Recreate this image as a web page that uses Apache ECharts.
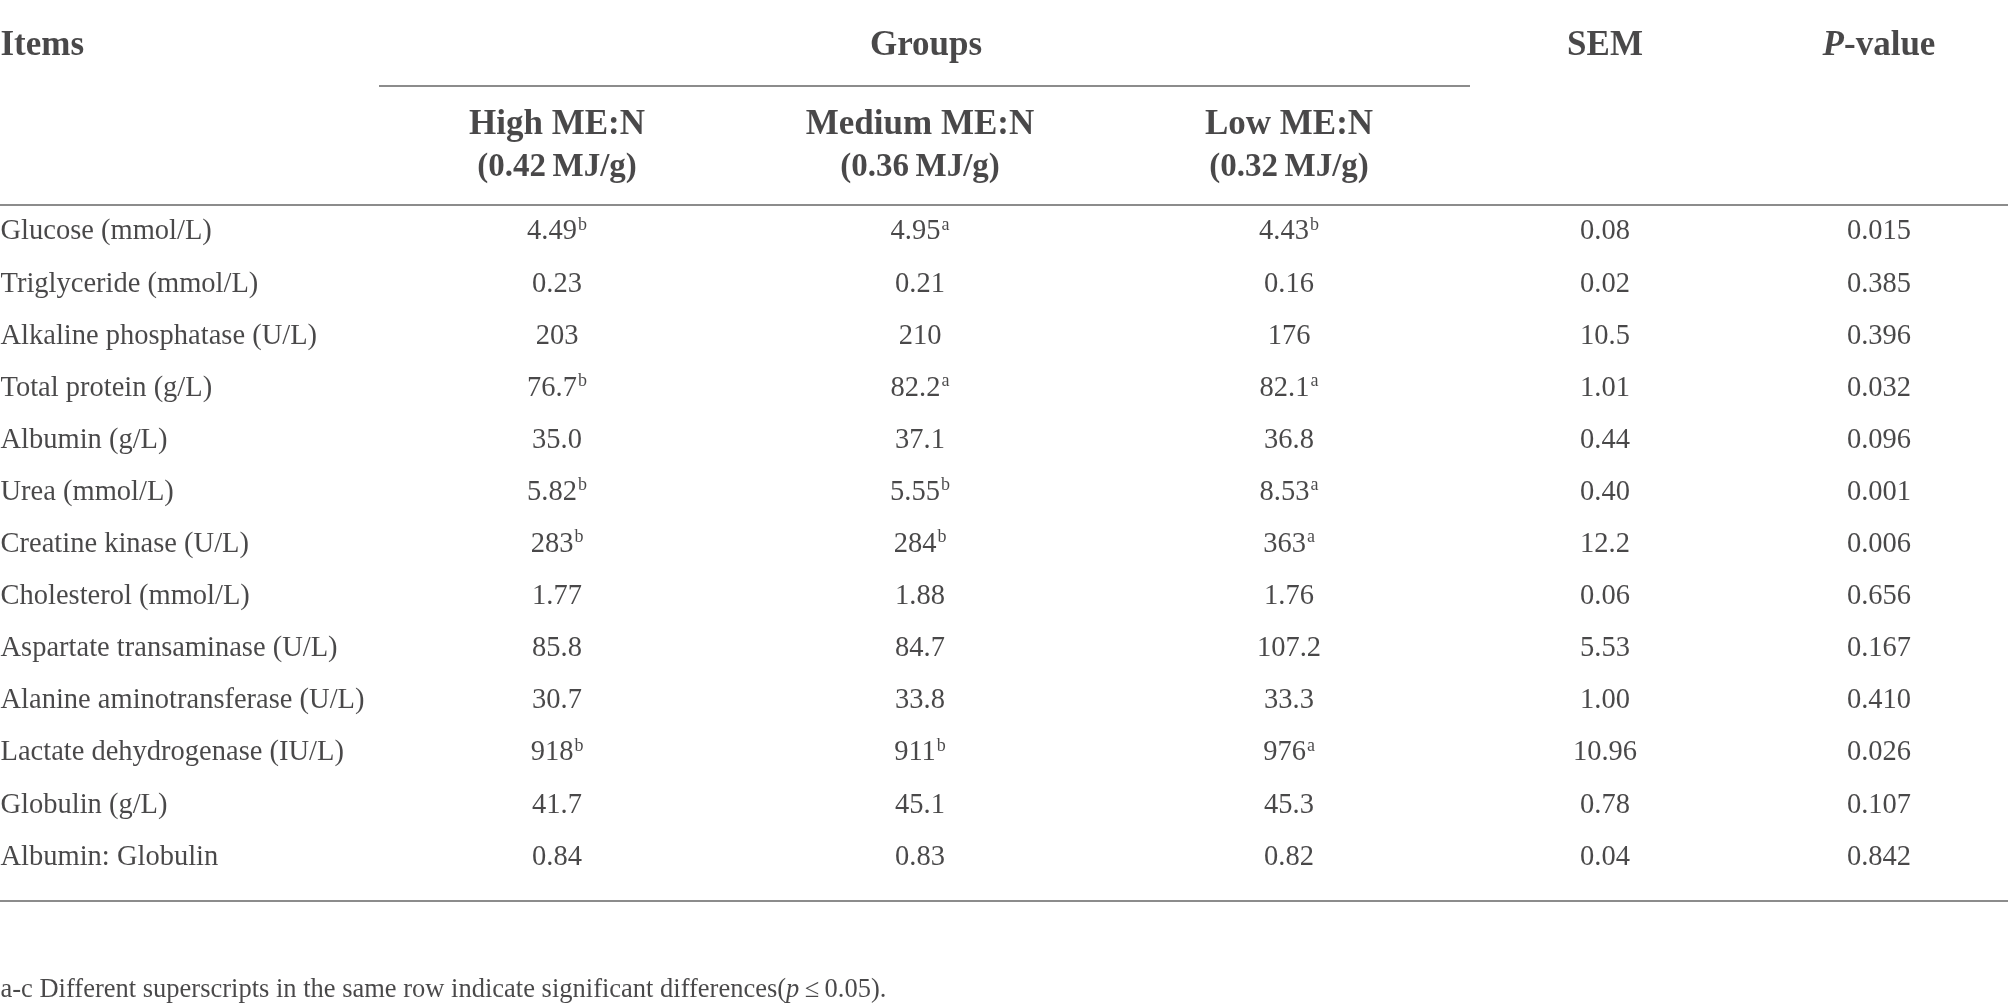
<!DOCTYPE html>
<html>
<head>
<meta charset="utf-8">
<script src="https://cdn.jsdelivr.net/npm/echarts@6/dist/echarts.min.js"></script>
<style>
  html, body { margin: 0; padding: 0; background: #ffffff; }
  #chart { width: 2008px; height: 1008px; }
</style>
</head>
<body>
<div id="chart"></div>
<script>
// ---------------- data ----------------
const items = [
  'Glucose (mmol/L)', 'Triglyceride (mmol/L)', 'Alkaline phosphatase (U/L)', 'Total protein (g/L)',
  'Albumin (g/L)', 'Urea (mmol/L)', 'Creatine kinase (U/L)', 'Cholesterol (mmol/L)',
  'Aspartate transaminase (U/L)', 'Alanine aminotransferase (U/L)', 'Lactate dehydrogenase (IU/L)',
  'Globulin (g/L)', 'Albumin: Globulin'
];
const highValues   = ['4.49', '0.23', '203', '76.7', '35.0', '5.82', '283', '1.77', '85.8', '30.7', '918', '41.7', '0.84'];
const highSup      = ['b', '', '', 'b', '', 'b', 'b', '', '', '', 'b', '', ''];
const mediumValues = ['4.95', '0.21', '210', '82.2', '37.1', '5.55', '284', '1.88', '84.7', '33.8', '911', '45.1', '0.83'];
const mediumSup    = ['a', '', '', 'a', '', 'b', 'b', '', '', '', 'b', '', ''];
const lowValues    = ['4.43', '0.16', '176', '82.1', '36.8', '8.53', '363', '1.76', '107.2', '33.3', '976', '45.3', '0.82'];
const lowSup       = ['b', '', '', 'a', '', 'a', 'a', '', '', '', 'a', '', ''];
const semValues    = ['0.08', '0.02', '10.5', '1.01', '0.44', '0.40', '12.2', '0.06', '5.53', '1.00', '10.96', '0.78', '0.04'];
const pValues      = ['0.015', '0.385', '0.396', '0.032', '0.096', '0.001', '0.006', '0.656', '0.167', '0.410', '0.026', '0.107', '0.842'];
const topHeaders   = ['Items', 'Groups', 'SEM', 'P-value'];
const groupNames   = ['High ME:N', 'Medium ME:N', 'Low ME:N'];
const groupRatios  = ['(0.42\u2009MJ/g)', '(0.36\u2009MJ/g)', '(0.32\u2009MJ/g)'];
const footnote     = 'a-c Different superscripts in the same row indicate significant differences(p\u2009\u2264\u20090.05).';

// ---------------- layout (pixels) ----------------
const W = 2008, H = 1008;
const firstRowPx = 232, rowPitch = 52.1;
const toV = px => (px - firstRowPx) / rowPitch;
const col = { items: 0, high: 557, medium: 920, low: 1289, sem: 1605, p: 1879, groups: 926 };
const headerPx = 46, subHeaderPx = 146, groupRulePx = 86, headRulePx = 205, bottomRulePx = 901, notePx = 990;
const groupRuleX = [379, 1470];

const TEXT = '#1c1a1b';
const RULE = '#8c8c8c';
const FONT = 'Liberation Serif';
const HIDDEN = { color: 'rgba(0,0,0,0)' };

const bodyRich = {
  v: { fontFamily: FONT, fontSize: 28.5, color: TEXT, lineHeight: 32 },
  s: { fontFamily: FONT, fontSize: 18, color: TEXT, lineHeight: 18, verticalAlign: 'top', padding: [0, 0, 0, 1] }
};

function valueSeries(x, values, sups) {
  return {
    type: 'scatter', silent: true, symbolSize: 1, itemStyle: HIDDEN,
    data: values.map((v, i) => ({ value: [x, i], txt: v, sup: sups ? sups[i] : '' })),
    label: {
      show: true, position: 'inside',
      formatter: p => '{v|' + p.data.txt + '}' + (p.data.sup ? '{s|' + p.data.sup + '}' : ''),
      rich: bodyRich
    }
  };
}

const series = [
  // item names
  {
    type: 'scatter', silent: true, symbolSize: 1, itemStyle: HIDDEN,
    data: items.map((t, i) => ({ value: [col.items, i], txt: t })),
    label: { show: true, position: 'right', distance: 0, formatter: p => p.data.txt,
      fontFamily: FONT, fontSize: 28.5, color: TEXT }
  },
  valueSeries(col.high, highValues, highSup),
  valueSeries(col.medium, mediumValues, mediumSup),
  valueSeries(col.low, lowValues, lowSup),
  valueSeries(col.sem, semValues, null),
  valueSeries(col.p, pValues, null),
  // top headers
  {
    type: 'scatter', silent: true, symbolSize: 1, itemStyle: HIDDEN,
    data: [
      { value: [col.items, toV(headerPx)], txt: topHeaders[0], label: { position: 'right', distance: 0 } },
      { value: [col.groups, toV(headerPx)], txt: topHeaders[1] },
      { value: [col.sem, toV(headerPx)], txt: topHeaders[2] },
      { value: [col.p, toV(headerPx)], txt: topHeaders[3], italicFirst: true }
    ],
    label: {
      show: true, position: 'inside',
      formatter: p => {
        if (p.data.italicFirst) {
          const t = p.data.txt;
          return '{i|' + t.charAt(0) + '}{b|' + t.slice(1) + '}';
        }
        return '{b|' + p.data.txt + '}';
      },
      rich: {
        b: { fontFamily: FONT, fontSize: 35, fontWeight: 'bold', color: TEXT },
        i: { fontFamily: FONT, fontSize: 35, fontWeight: 'bold', fontStyle: 'italic', color: TEXT }
      }
    }
  },
  // group sub headers
  {
    type: 'scatter', silent: true, symbolSize: 1, itemStyle: HIDDEN,
    data: groupNames.map((t, i) => ({ value: [[col.high, col.medium, col.low][i], toV(subHeaderPx)], name1: t, name2: groupRatios[i] })),
    label: {
      show: true, position: 'inside', align: 'center',
      formatter: p => '{a|' + p.data.name1 + '}\n{c|' + p.data.name2 + '}',
      rich: {
        a: { fontFamily: FONT, fontSize: 35, fontWeight: 'bold', color: TEXT, lineHeight: 43, align: 'center' },
        c: { fontFamily: FONT, fontSize: 33, fontWeight: 'bold', color: TEXT, lineHeight: 43, align: 'center' }
      }
    }
  },
  // footnote
  {
    type: 'scatter', silent: true, symbolSize: 1, itemStyle: HIDDEN,
    data: [{ value: [0, toV(notePx)], txt: footnote }],
    label: {
      show: true, position: 'right', distance: 0,
      formatter: p => {
        const t = p.data.txt;
        const k = t.indexOf('(p');
        return '{n|' + t.slice(0, k + 1) + '}{it|p}{n|' + t.slice(k + 2) + '}';
      },
      rich: {
        n: { fontFamily: FONT, fontSize: 26.5, color: TEXT },
        it: { fontFamily: FONT, fontSize: 26.5, fontStyle: 'italic', color: TEXT }
      }
    }
  },
  // rules
  {
    type: 'line', silent: true, data: [], symbol: 'none',
    markLine: {
      silent: true, symbol: 'none', animation: false,
      label: { show: false },
      lineStyle: { color: RULE, width: 2, type: 'solid' },
      data: [
        { yAxis: toV(headRulePx) },
        { yAxis: toV(bottomRulePx) },
        [{ coord: [groupRuleX[0], toV(groupRulePx)] }, { coord: [groupRuleX[1], toV(groupRulePx)] }]
      ]
    }
  }
];

const chart = echarts.init(document.getElementById('chart'), null, { renderer: 'canvas' });
chart.setOption({
  animation: false,
  backgroundColor: '#ffffff',
  grid: { left: 0, right: 0, top: 0, bottom: 0 },
  xAxis: { type: 'value', min: 0, max: W, show: false },
  yAxis: { type: 'value', min: toV(0), max: toV(H), inverse: true, show: false },
  series: series
});
</script>
</body>
</html>
